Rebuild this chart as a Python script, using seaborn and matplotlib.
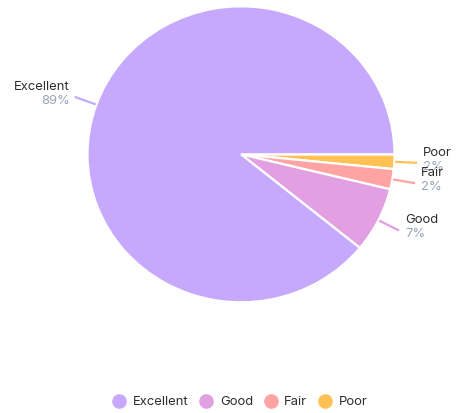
import numpy as np
import matplotlib
matplotlib.use("Agg")
import matplotlib.pyplot as plt
from matplotlib.lines import Line2D
import seaborn as sns

# Ratings share (percent)
categories = ["Excellent", "Good", "Fair", "Poor"]
shares = [89.1, 7.1, 2.2, 1.6]
colors = ["#C6A9FD", "#E2A0E2", "#FFA3A3", "#FFC153"]

sns.set_theme(style="white")
plt.rcParams["font.family"] = ["Inter", "DejaVu Sans"]

W, H = 458, 413
fig = plt.figure(figsize=(W / 100, H / 100), dpi=100)
cx, cy, rx_px, ry_px = 241, 154.3, 153.5, 148
ax = fig.add_axes([(cx - rx_px) / W, (H - cy - ry_px) / H, 2 * rx_px / W, 2 * ry_px / H])

# Draw clockwise from 3 o'clock: Poor, Fair, Good, Excellent
order = ["Poor", "Fair", "Good", "Excellent"]
vals = [shares[categories.index(c)] for c in order]
cols = [colors[categories.index(c)] for c in order]
wedges, _ = ax.pie(vals, colors=cols, startangle=0, counterclock=False, radius=1.0,
                   wedgeprops=dict(edgecolor="white", linewidth=1.6))
ax.set_xlim(-1, 1)
ax.set_ylim(-1, 1)
ax.set_aspect("auto")
ax.axis("off")

pxx, pxy = 1 / rx_px, 1 / ry_px
fs = 9.4
for w, name, v, c in zip(wedges, order, vals, cols):
    mid = np.deg2rad((w.theta1 + w.theta2) / 2)
    x0, y0 = np.cos(mid), np.sin(mid)
    x1, y1 = x0 * (1 + 23 * pxx), y0 * (1 + 23 * pxy)
    ax.plot([x0 * 1.005, x1], [y0 * 1.005, y1], color=c, lw=1.6, clip_on=False,
            solid_capstyle="butt")
    right = x1 >= 0
    tx = x1 + (6 * pxx if right else -5 * pxx)
    ha = "left" if right else "right"
    ax.text(tx, y1 + 10 * pxy, name, ha=ha, va="center", fontsize=fs,
            color="#2E2E2E", clip_on=False)
    ax.text(tx, y1 - 4 * pxy, f"{round(v):.0f}%", ha=ha, va="center", fontsize=fs,
            color="#9CA3B9", clip_on=False)

handles = [Line2D([], [], marker="o", linestyle="none", markersize=9.5,
                  markerfacecolor=c, markeredgecolor=c) for c in colors]
fig.legend(handles, categories, loc="center", bbox_to_anchor=(0.524, 1 - 402 / H),
           ncol=4, frameon=False, fontsize=fs, handlelength=1.0,
           handletextpad=0.55, columnspacing=0.85, labelcolor="#2E2E2E")

fig.savefig("out.png", dpi=100, facecolor="white")
